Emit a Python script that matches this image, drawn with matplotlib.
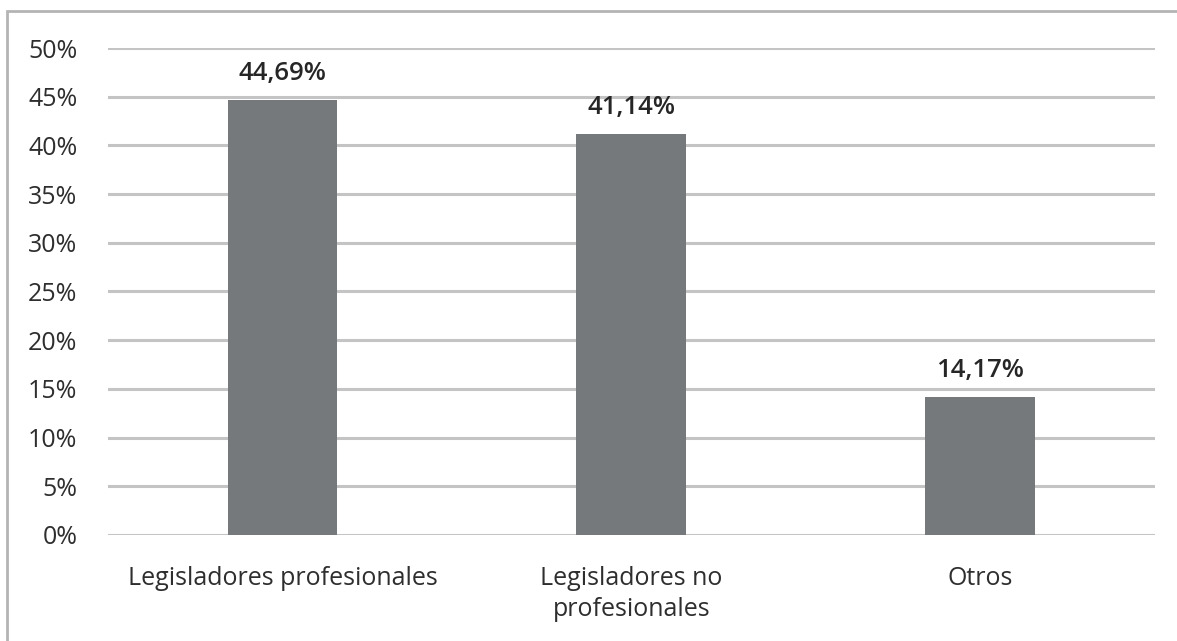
import matplotlib.pyplot as plt
from matplotlib.patches import Rectangle
from matplotlib.ticker import FuncFormatter

# Percentage of legislators by category
categories = ['Legisladores profesionales', 'Legisladores no\nprofesionales', 'Otros']
values = [44.69, 41.14, 14.17]
labels = ['44,69%', '41,14%', '14,17%']
yticks = [0, 5, 10, 15, 20, 25, 30, 35, 40, 45, 50]

plt.rcParams['font.family'] = ['Open Sans', 'DejaVu Sans']

fig = plt.figure(figsize=(11.77, 6.41), dpi=100)
ax = fig.add_axes([0.0918, 0.1654, 0.8892, 0.7597])

# outer frame of the chart, cut by the right and bottom edges
fig.patches.append(Rectangle((7 / 1177, -0.2), 1.2, 1.2 - 11 / 641,
                             transform=fig.transFigure, fill=False,
                             edgecolor='#b4b4b4', linewidth=2))

x = range(len(categories))
ax.bar(x, values, width=0.315, color='#76797b', zorder=3)

for xi, v, lab in zip(x, values, labels):
    ax.annotate(lab, (xi, v), xytext=(0, 10), textcoords='offset points',
                ha='center', va='bottom', fontsize=18.5, fontweight='semibold',
                color='#262626')

ax.set_xlim(-0.5, 2.5)
ax.set_ylim(0, 50)
ax.set_yticks(yticks)
ax.yaxis.set_major_formatter(FuncFormatter(lambda v, p: f'{v:.0f}%'))
ax.set_xticks(list(x))
ax.set_xticklabels(categories, linespacing=1.35)
ax.grid(axis='y', color='#c4c4c4', linewidth=2.2, zorder=0)
ax.tick_params(axis='both', length=0, labelsize=18, colors='#2e2e2e')
ax.tick_params(axis='x', pad=22)
ax.tick_params(axis='y', pad=22)
for s in ax.spines.values():
    s.set_visible(False)

fig.savefig('out.png', dpi=100)
